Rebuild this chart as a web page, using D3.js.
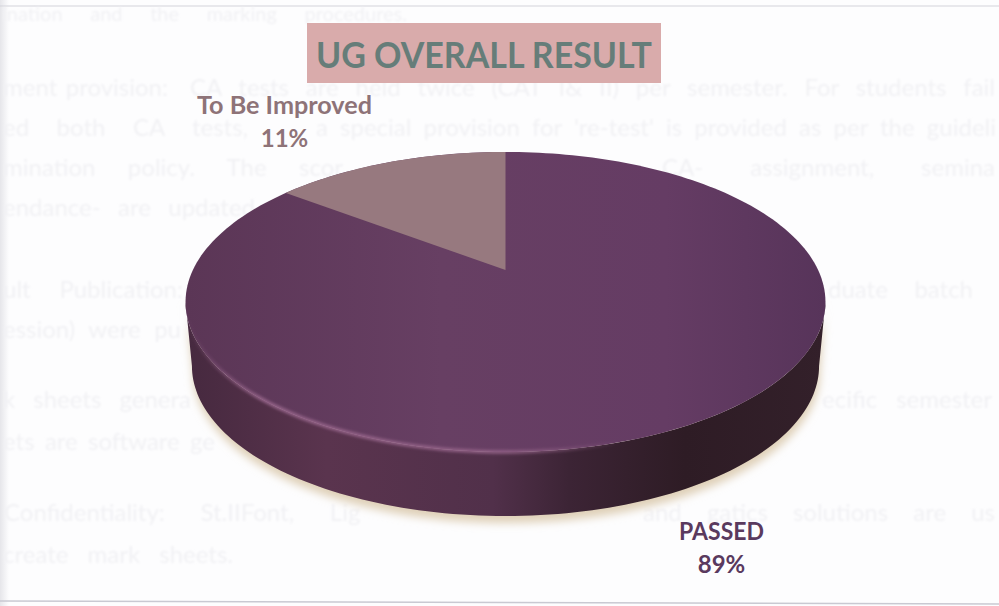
<!DOCTYPE html>
<html>
<head>
<meta charset="utf-8">
<script src="https://cdn.jsdelivr.net/npm/d3@7"></script>
<style>
  html, body { margin: 0; padding: 0; background: #fdfdfe; overflow: hidden; }
  text { font-family: Lato, "Open Sans", sans-serif; }
</style>
</head>
<body>
<div id="chart"></div>
<script>
// Data
const categories = ["PASSED", "To Be Improved"];
const values = [89, 11];
const title = "UG OVERALL RESULT";

// Text of the page showing through the scan
const ghostLines = [
  "ination and the marking procedures.",
  "ment provision:",
  "CA tests are held twice (CAT I& II) per semester. For students fail",
  "ed both CA tests,",
  "a special provision for 're-test' is provided as per the guideli",
  "mination policy. The scor",
  "CA- assignment, semina",
  "endance- are updated",
  "ult Publication:",
  "duate batch",
  "ession) were pu",
  "k sheets genera",
  "ecific semester",
  "ets are software ge",
  "Confidentiality:  St.IIFont, Lig",
  "and gatics solutions are us",
  "create mark sheets."
];
const ghostX = [2, 3, 190, 3, 316, 3, 662, 3, 3, 828, 3, 3, 822, 3, 4, 643, 3];
const ghostY = [21, 96, 96, 136, 136, 176, 176, 216, 298, 298, 338, 408, 408, 450, 521, 521, 563];
const ghostW = [405, 165, 805, 245, 680, 340, 333, 252, 180, 145, 178, 188, 170, 212, 386, 352, 230];

const width = 999, height = 606;
const colors = ["#653d62", "#97797f"];

// Tilted view of the pie: u, v on the unit disc go to the screen
const cx = 505.5, apexY = 270, k = -0.2133, scaleV = 143.2, scaleU = 312.6;
const depth = 64, baseShrink = 0.98;
const warp = 0.23; // view stretches the angles near the back of the pie

function rim(a) {
  const u = Math.sin(a), v = -Math.cos(a);
  const w = 1 + k * v;
  return [cx + scaleU * u / w, apexY + scaleV * v / w];
}
function project(angle) {
  return rim(angle + warp * Math.sin(2 * angle));
}
function base(a) {
  const p = rim(a);
  return [cx + (p[0] - cx) * baseShrink, p[1] + depth];
}

const svg = d3.select("#chart").append("svg")
  .attr("width", width)
  .attr("height", height)
  .style("display", "block");

const defs = svg.append("defs");
defs.append("filter").attr("id", "halo")
  .attr("x", "-10%").attr("y", "-10%").attr("width", "120%").attr("height", "120%")
  .append("feGaussianBlur").attr("stdDeviation", 4);
defs.append("filter").attr("id", "soft")
  .append("feGaussianBlur").attr("stdDeviation", 1.5);
defs.append("filter").attr("id", "ghostBlur")
  .append("feGaussianBlur").attr("stdDeviation", 0.8);

const wallGrad = defs.append("linearGradient").attr("id", "wall");
[["0%", "#46293f"], ["22%", "#5a344e"], ["48%", "#51304a"], ["60%", "#3c2435"], ["78%", "#2e1c25"], ["100%", "#33202a"]]
  .forEach(s => wallGrad.append("stop").attr("offset", s[0]).attr("stop-color", s[1]));

const topGrad = defs.append("linearGradient").attr("id", "topFace");
[["0%", "#5b3656"], ["40%", "#673f63"], ["75%", "#653c64"], ["100%", "#57345a"]]
  .forEach(s => topGrad.append("stop").attr("offset", s[0]).attr("stop-color", s[1]));

const rimGrad = defs.append("linearGradient").attr("id", "rimLight");
[["0%", "#96648a", 0], ["12%", "#96648a", 1], ["50%", "#96648a", 0.9], ["68%", "#96648a", 0], ["100%", "#96648a", 0]]
  .forEach(s => rimGrad.append("stop").attr("offset", s[0]).attr("stop-color", s[1]).attr("stop-opacity", s[2]));

// Page background
const edge = defs.append("linearGradient").attr("id", "edge");
edge.append("stop").attr("offset", "0%").attr("stop-color", "#e6e6ea");
edge.append("stop").attr("offset", "100%").attr("stop-color", "#fdfdfe");
svg.append("rect").attr("width", width).attr("height", height).attr("fill", "#fdfdfe");
svg.append("rect").attr("width", 9).attr("height", height).attr("fill", "url(#edge)");
svg.append("line").attr("x1", 0).attr("x2", width).attr("y1", 6).attr("y2", 6)
  .attr("stroke", "#d3d3da").attr("stroke-width", 1);
svg.append("line").attr("x1", 0).attr("x2", width).attr("y1", 601).attr("y2", 604)
  .attr("stroke", "#c9c9d2").attr("stroke-width", 1.5);

// Justified lines: the spare width goes between the words
svg.append("g").attr("filter", "url(#ghostBlur)")
  .selectAll("text").data(ghostLines).join("text")
  .attr("x", (d, i) => ghostX[i])
  .attr("y", (d, i) => ghostY[i])
  .attr("font-size", (d, i) => i === 0 ? 20 : 24)
  .attr("fill", "#f1f1f4")
  .text(d => d)
  .each(function (d, i) {
    const gaps = d.split(" ").length - 1;
    const spare = ghostW[i] - this.getComputedTextLength();
    if (gaps > 0) d3.select(this).style("word-spacing", spare / gaps + "px");
  });

// Pie layout
const slices = d3.pie().sort(null).value(d => d)(values);
const line = d3.line();

const angleR = Math.acos(k), angleL = 2 * Math.PI - angleR;
const frontAngles = d3.range(0, 121).map(i => angleR + (angleL - angleR) * i / 120);
const allAngles = d3.range(0, 241).map(i => 2 * Math.PI * i / 240);

// Soft beige halo under the pie
svg.append("path")
  .attr("d", line(frontAngles.map(a => { const p = base(a); return [p[0] + 1, p[1] + 7]; }).concat(frontAngles.slice().reverse().map(rim))) + "Z")
  .attr("fill", "#dfd0b8")
  .attr("filter", "url(#halo)");

// Side wall
svg.append("path")
  .attr("d", line(frontAngles.map(base).concat(frontAngles.slice().reverse().map(rim))) + "Z")
  .attr("fill", "url(#wall)");

// Top face, whole disc in the colour of the large slice
svg.append("path")
  .attr("d", line(allAngles.map(rim)) + "Z")
  .attr("fill", "url(#topFace)");

// Light along the front rim
svg.append("path")
  .attr("d", line(frontAngles.map(rim)))
  .attr("fill", "none")
  .attr("stroke", "url(#rimLight)")
  .attr("stroke-width", 3.5)
  .attr("filter", "url(#soft)");

// Small slice: d3.pie angle span, placed just before 12 o'clock
const small = slices[1];
const span = small.endAngle - small.startAngle;
const sliceAngles = d3.range(0, 41).map(i => -span + span * i / 40);
const slicePts = [[cx, apexY]].concat(sliceAngles.map(project));
svg.append("path")
  .attr("d", line(slicePts) + "Z")
  .attr("fill", colors[1]);

// Title
svg.append("rect")
  .attr("x", 307).attr("y", 23).attr("width", 354).attr("height", 60)
  .attr("fill", "#d9abab");
svg.append("text")
  .attr("x", 484).attr("y", 68)
  .attr("text-anchor", "middle")
  .attr("font-size", 37)
  .attr("font-weight", 700)
  .attr("textLength", 336)
  .attr("lengthAdjust", "spacingAndGlyphs")
  .attr("fill", "#667d79")
  .text(title);

// Data labels
const labelX = [721.5, 284.5];
const labelY = [540, 114];
const labelW = [85, 175];
const labelColors = ["#5a3a5e", "#8e7378"];
const labels = svg.append("g").selectAll("g").data(categories).join("g");
labels.append("text")
  .attr("x", (d, i) => labelX[i]).attr("y", (d, i) => labelY[i])
  .attr("text-anchor", "middle").attr("font-size", 24).attr("font-weight", 700)
  .attr("textLength", (d, i) => labelW[i])
  .attr("lengthAdjust", "spacingAndGlyphs")
  .attr("fill", (d, i) => labelColors[i])
  .text(d => d);
labels.append("text")
  .attr("x", (d, i) => labelX[i]).attr("y", (d, i) => labelY[i] + 33)
  .attr("text-anchor", "middle").attr("font-size", 24).attr("font-weight", 700)
  .attr("fill", (d, i) => labelColors[i])
  .text((d, i) => values[i] + "%");
</script>
</body>
</html>
